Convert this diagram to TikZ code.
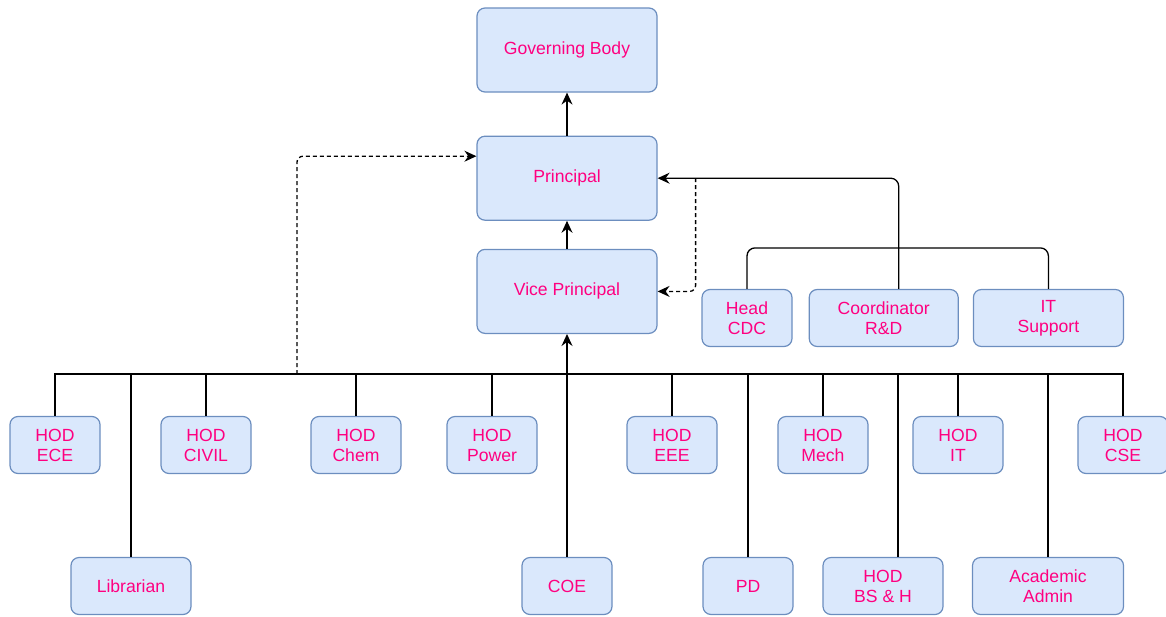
\documentclass[tikz,border=0pt]{standalone}
\usepackage{fontspec}
\setmainfont{Liberation Sans}
\usetikzlibrary{positioning,arrows.meta}
\definecolor{boxfill}{HTML}{DAE8FC}
\definecolor{boxline}{HTML}{6C8EBF}
\definecolor{txt}{HTML}{FF0080}

\begin{document}
\begin{tikzpicture}[x=1pt,y=-1pt,
	box/.style={draw=boxline, fill=boxfill, rounded corners=8pt, line width=1.2pt,
		text=txt, align=center, inner sep=0pt, font=\fontsize{17.6}{20}\selectfont},
	big/.style={box, minimum width=180pt, minimum height=84pt},
	small/.style={box, minimum width=90pt, minimum height=57pt},
	link/.style={line width=1.3pt},
	arr/.style={link, -{Stealth[length=12pt,width=11pt,inset=4pt]}},
	dashlink/.style={arr, dash pattern=on 4pt off 3pt, rounded corners=6pt}]
	\useasboundingbox (0,0) rectangle (1166,616);
	
	% top of the chart
	\node[big] (gb) at (567,50) {Governing Body};
	\node[big, below=43pt of gb] (pr) {Principal};
	\node[big, below=28pt of pr] (vp) {Vice Principal};
	
	\node[small] (cdc) at (747,318) {Head\\CDC};
	\node[small, minimum width=149pt, right=16pt of cdc] (rd) {Coordinator\\R\&D};
	\node[small, minimum width=150pt, right=14pt of rd] (its) {IT\\Support};
	
	% heads of departments
	\node[small] (ece) at (55,445) {HOD\\ECE};
	\node[small] (civil) at (206,445) {HOD\\CIVIL};
	\node[small] (chem) at (356,445) {HOD\\Chem};
	\node[small] (power) at (492,445) {HOD\\Power};
	\node[small] (eee) at (672,445) {HOD\\EEE};
	\node[small] (mech) at (823,445) {HOD\\Mech};
	\node[small] (hit) at (958,445) {HOD\\IT};
	\node[small] (cse) at (1123,445) {HOD\\CSE};
	
	% bottom row
	\node[small, minimum width=120pt] (lib) at (131,586) {Librarian};
	\node[small] (coe) at (567,586) {COE};
	\node[small] (pd) at (748,586) {PD};
	\node[small, minimum width=120pt] (bsh) at (883,586) {HOD\\BS \& H};
	\node[small, minimum width=151pt] (acad) at (1048,586) {Academic\\Admin};
	
	\coordinate (bus) at (0,374);
	\coordinate (dstart) at (297,374);
	\coordinate (bshtop) at ([xshift=15pt]bsh.north);
	\coordinate (rdtop) at ([xshift=15pt]rd.north);
	
	\draw[link] (ece.north) -- (ece.north |- bus) -- (cse.north |- bus) -- (cse.north);
	\draw[link] (lib.north) -- (lib.north |- bus)
		(civil.north) -- (civil.north |- bus)
		(chem.north) -- (chem.north |- bus)
		(power.north) -- (power.north |- bus)
		(eee.north) -- (eee.north |- bus)
		(pd.north) -- (pd.north |- bus)
		(mech.north) -- (mech.north |- bus)
		(bshtop) -- (bshtop |- bus)
		(hit.north) -- (hit.north |- bus)
		(acad.north) -- (acad.north |- bus);
	
	\draw[arr] (coe.north) -- (vp.south);
	\draw[arr] (vp.north) -- (pr.south);
	\draw[arr] (pr.north) -- (gb.south);
	
	\draw[dashlink] (dstart) |- ([yshift=22pt]pr.west);
	\draw[dashlink] ([xshift=38pt]pr.east) |- (vp.east);
	
	\draw[arr, rounded corners=8pt] (rdtop) |- (pr.east);
	\draw[link, rounded corners=8pt] (cdc.north) -- ++(0,-41) -| (its.north);
\end{tikzpicture}
\end{document}
